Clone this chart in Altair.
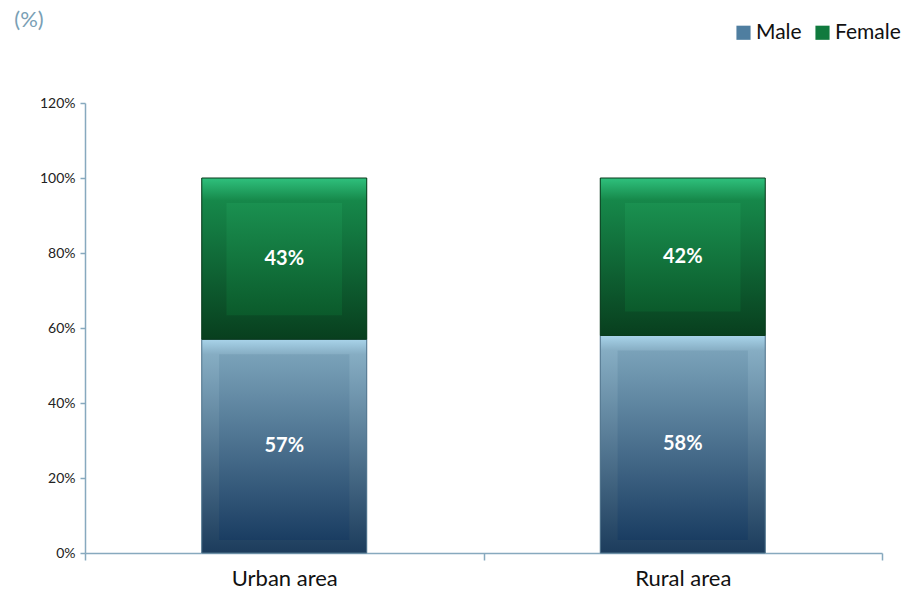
import altair as alt
import pandas as pd

areas = ["Urban area", "Rural area"]
genders = ["Male", "Female"]
male = [57, 58]
female = [43, 42]
y_ticks = [0, 0.2, 0.4, 0.6, 0.8, 1.0, 1.2]

rows = []
for i, a in enumerate(areas):
    rows.append({"area": a, "gender": "Male", "value": male[i] / 100, "order": 0})
    rows.append({"area": a, "gender": "Female", "value": female[i] / 100, "order": 1})
df = pd.DataFrame(rows)

AXIS_C = "#87a9be"
FONT = "Lato"
BAR_FRAC = 0.414

base = alt.Chart(df).transform_stack(
    stack="value", as_=["y0", "y1"], groupby=["area"],
    sort=[alt.SortField("order", order="ascending")]
).transform_calculate(mid="(datum.y0 + datum.y1) / 2")

xenc = alt.X(
    "area:N", sort=areas,
    scale=alt.Scale(paddingInner=0, paddingOuter=0),
    axis=alt.Axis(title=None, labelAngle=0, tickBand="extent", tickSize=7,
                  tickColor=AXIS_C, domainColor=AXIS_C, domainWidth=1.5, tickWidth=1.5,
                  labelFont=FONT, labelFontSize=22, labelColor="#111111", labelPadding=8),
)
yenc = alt.Y(
    "y1:Q", scale=alt.Scale(domain=[0, 1.2]),
    axis=alt.Axis(title=None, values=y_ticks, format=".0%", grid=False, tickSize=5,
                  tickColor=AXIS_C, domainColor=AXIS_C, domainWidth=1.5, tickWidth=1.5,
                  labelFont=FONT, labelFontSize=14, labelColor="#222222", labelPadding=5),
)

def grad(stops):
    return alt.Gradient(gradient="linear", x1=0, x2=0, y1=0, y2=1,
                        stops=[alt.GradientStop(color=c, offset=o) for o, c in stops])

legend_layer = base.mark_bar(width=alt.RelativeBandSize(BAR_FRAC)).encode(
    x=xenc, y=yenc, y2="y0:Q",
    color=alt.Color("gender:N", sort=genders,
                    scale=alt.Scale(domain=genders, range=["#4f7ea0", "#107a3e"]),
                    legend=alt.Legend(title=None, orient="none", legendX=648, legendY=-81,
                                      direction="horizontal", symbolType="square",
                                      symbolSize=200, symbolStrokeWidth=0,
                                      labelFont=FONT, labelFontSize=21, labelColor="#111111",
                                      columnPadding=10, labelOffset=2)),
)

styles = {
    "Male": dict(
        outer=[(0, "#a9d4ea"), (0.07, "#86adc3"), (1, "#1c3c5c")],
        inner=[(0, "#7aa2b9"), (1, "#1a3d62")],
        stroke="#51748c", band=BAR_FRAC * 0.79, yo=15, y2o=-13),
    "Female": dict(
        outer=[(0, "#2fc17d"), (0.14, "#16884a"), (1, "#083f1e")],
        inner=[(0, "#1a9050"), (1, "#0b5a2b")],
        stroke="#0a3a1c", band=BAR_FRAC * 0.7, yo=25, y2o=-24),
}

layers = [legend_layer]
for g in genders:
    s = styles[g]
    sub = base.transform_filter(alt.datum.gender == g)
    layers.append(sub.mark_bar(color=grad(s["outer"]), stroke=s["stroke"], strokeWidth=1,
                               width=alt.RelativeBandSize(BAR_FRAC)).encode(
        x=xenc, y=yenc, y2="y0:Q"))
    layers.append(sub.mark_bar(color=grad(s["inner"]), width=alt.RelativeBandSize(s["band"]),
                               yOffset=s["yo"], y2Offset=s["y2o"]).encode(
        x=xenc, y=yenc, y2="y0:Q"))

labels = base.mark_text(color="white", fontWeight="bold", fontSize=20, font=FONT).encode(
    x=xenc, y=alt.Y("mid:Q"), text=alt.Text("value:Q", format=".0%"))
layers.append(labels)

unit = alt.Chart(pd.DataFrame({"t": ["(%)"]})).mark_text(
    font=FONT, fontSize=22, color="#7a9fb5", align="center", baseline="middle"
).encode(x=alt.value(-56), y=alt.value(-83), text="t:N")
layers.append(unit)

chart = alt.layer(*layers).properties(
    width=797, height=450,
    background="white",
    autosize=alt.AutoSizeParams(type="none"),
    padding={"left": 85, "top": 103, "right": 34, "bottom": 42},
).configure_view(stroke=None)

chart.save("out.html", embed_options={"renderer": "svg", "actions": False})
